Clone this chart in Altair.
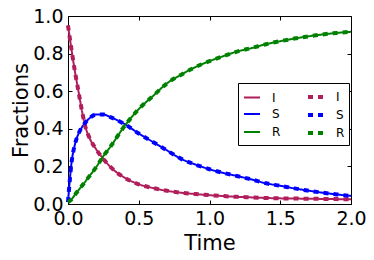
import altair as alt
import pandas as pd

# ---- data ----
time = [0, 0.025, 0.05, 0.075, 0.1, 0.125, 0.15, 0.2, 0.25, 0.3, 0.4, 0.5, 0.6,
        0.7, 0.8, 0.9, 1.0, 1.1, 1.2, 1.3, 1.4, 1.5, 1.6, 1.7, 1.8, 1.9, 2.0]
frac_I = [0.95, 0.82, 0.70, 0.595, 0.49, 0.405, 0.355, 0.29, 0.24, 0.197, 0.14, 0.105, 0.085,
          0.07, 0.06, 0.053, 0.047, 0.042, 0.038, 0.035, 0.032, 0.030, 0.029, 0.028, 0.027, 0.026, 0.025]
frac_S = [0.01, 0.22, 0.32, 0.375, 0.41, 0.435, 0.455, 0.476, 0.476, 0.462, 0.425, 0.375, 0.33,
          0.285, 0.24, 0.21, 0.185, 0.165, 0.148, 0.13, 0.11, 0.097, 0.083, 0.071, 0.06, 0.051, 0.043]
frac_R = [0.01, 0.025, 0.05, 0.074, 0.098, 0.122, 0.147, 0.197, 0.255, 0.305, 0.415, 0.505, 0.574,
          0.642, 0.688, 0.728, 0.76, 0.787, 0.812, 0.83, 0.85, 0.866, 0.88, 0.892, 0.902, 0.91, 0.916]

series_names = ["I", "S", "R"]
series_values = [frac_I, frac_S, frac_R]
series_colors = ["#B01E5C", "#0000FF", "#008000"]

y_ticks = [0.0, 0.2, 0.4, 0.6, 0.8, 1.0]
x_ticks = [0.0, 0.5, 1.0, 1.5, 2.0]

# solid key "I", dotted key "I " (trailing space keeps legend entries distinct)
rows = []
order = 0
domain, colors, dashes, widths = [], [], [], []
for style in ["solid", "dotted"]:
    for name, vals, c in zip(series_names, series_values, series_colors):
        key = name if style == "solid" else name + " "
        domain.append(key)
        colors.append(c)
        dashes.append([1, 0] if style == "solid" else [5, 5])
        widths.append(2 if style == "solid" else 4)
        for t, v in zip(time, vals):
            rows.append({"t": t, "v": v, "key": key, "ord": order})
        order += 1
df = pd.DataFrame(rows)

FONT = "DejaVu Sans"
xs = alt.Scale(domain=[0, 2], nice=False, zero=False)
ys = alt.Scale(domain=[0, 1], nice=False, zero=False)

common_axis = dict(grid=False, domain=False, tickSize=4, tickColor="black", tickWidth=1,
                   offset=-4, labelFontSize=19, labelFont=FONT, labelColor="black",
                   labelFlush=False, labelOverlap=False, labelBound=False,
                   titleFont=FONT, titleFontSize=21, titleFontWeight="normal", titleColor="black")

axis_bottom = alt.Axis(orient="bottom", values=x_ticks, format=".1f", labelPadding=5,
                       title="Time", titlePadding=4, **common_axis)
axis_left = alt.Axis(orient="left", values=y_ticks, format=".1f", labelPadding=5,
                     title="Fractions", titlePadding=1, **common_axis)
axis_top = alt.Axis(orient="top", values=x_ticks, labels=False, title=None,
                    grid=False, domain=False, tickSize=4, tickColor="black", offset=-4)
axis_right = alt.Axis(orient="right", values=y_ticks, labels=False, title=None,
                      grid=False, domain=False, tickSize=4, tickColor="black", offset=-4)

legend = alt.Legend(orient="none", legendX=170, legendY=67, columns=2, title=None,
                    strokeColor="black", fillColor="white", padding=4, cornerRadius=0,
                    symbolType="stroke", symbolSize=256, labelFontSize=12, labelFont=FONT,
                    labelColor="black", labelOffset=10, columnPadding=19, rowPadding=-2)

lines = alt.Chart(df).mark_line(interpolate="monotone", strokeCap="butt").encode(
    x=alt.X("t:Q", scale=xs, axis=axis_bottom),
    y=alt.Y("v:Q", scale=ys, axis=axis_left),
    color=alt.Color("key:N", scale=alt.Scale(type="ordinal", domain=domain, range=colors), legend=legend),
    strokeDash=alt.StrokeDash("key:N", scale=alt.Scale(type="ordinal", domain=domain, range=dashes), legend=legend),
    strokeWidth=alt.StrokeWidth("key:N", scale=alt.Scale(type="ordinal", domain=domain, range=widths), legend=legend),
    order=alt.Order("ord:Q"),
)

frame = alt.Chart(df).mark_line(opacity=0).encode(
    x=alt.X("t:Q", scale=xs, axis=axis_top),
    y=alt.Y("v:Q", scale=ys, axis=axis_right),
    detail="key:N",
)

chart = alt.layer(lines, frame).resolve_scale(x="independent", y="independent").resolve_axis(
    x="independent", y="independent"
).properties(
    width=283, height=188,
    autosize=alt.AutoSizeParams(type="none"),
    padding={"left": 60, "top": 8, "right": 15, "bottom": 48},
    background="white",
).configure_view(stroke="black", strokeWidth=1)

chart.save("out.html", embed_options={"renderer": "svg", "actions": False})
